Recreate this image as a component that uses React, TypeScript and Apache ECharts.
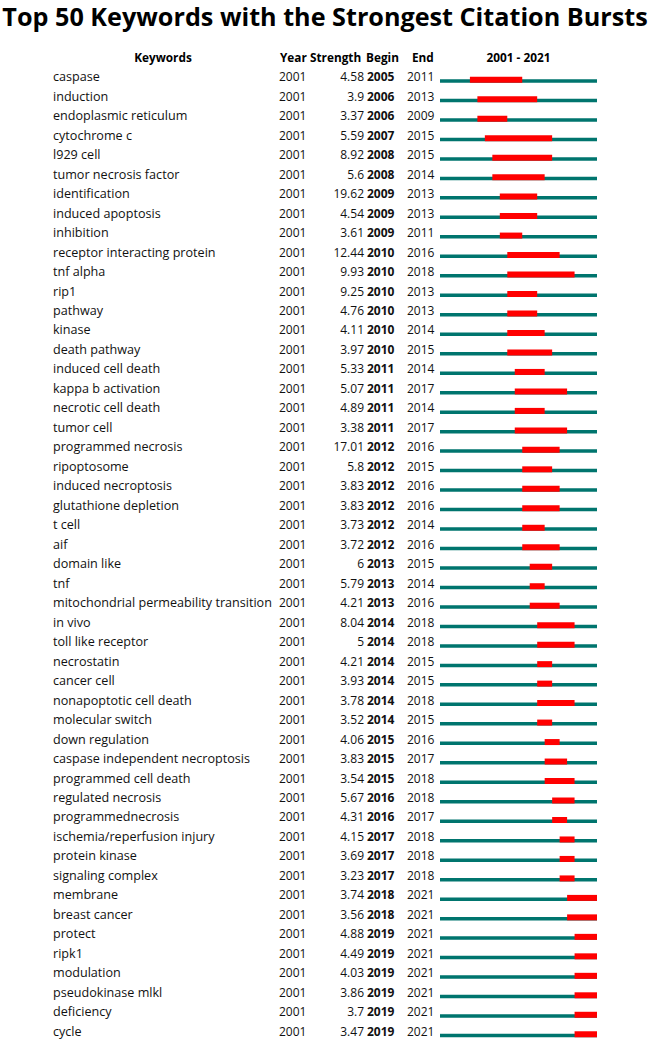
import React, { useEffect, useRef } from "react";
import * as echarts from "echarts";

const TITLE = "Top 50 Keywords with the Strongest Citation Bursts";
const HEADERS = ["Keywords", "Year", "Strength", "Begin", "End", "2001 - 2021"];
const MIN_YEAR = 2001;
const MAX_YEAR = 2021;

const keywords = [
  "caspase", "induction", "endoplasmic reticulum", "cytochrome c", "l929 cell",
  "tumor necrosis factor", "identification", "induced apoptosis", "inhibition", "receptor interacting protein",
  "tnf alpha", "rip1", "pathway", "kinase", "death pathway",
  "induced cell death", "kappa b activation", "necrotic cell death", "tumor cell", "programmed necrosis",
  "ripoptosome", "induced necroptosis", "glutathione depletion", "t cell", "aif",
  "domain like", "tnf", "mitochondrial permeability transition", "in vivo", "toll like receptor",
  "necrostatin", "cancer cell", "nonapoptotic cell death", "molecular switch", "down regulation",
  "caspase independent necroptosis", "programmed cell death", "regulated necrosis", "programmednecrosis", "ischemia/reperfusion injury",
  "protein kinase", "signaling complex", "membrane", "breast cancer", "protect",
  "ripk1", "modulation", "pseudokinase mlkl", "deficiency", "cycle",
];

const years = new Array(50).fill(2001);

const strengths = [
  4.58, 3.9, 3.37, 5.59, 8.92,
  5.6, 19.62, 4.54, 3.61, 12.44,
  9.93, 9.25, 4.76, 4.11, 3.97,
  5.33, 5.07, 4.89, 3.38, 17.01,
  5.8, 3.83, 3.83, 3.73, 3.72,
  6, 5.79, 4.21, 8.04, 5,
  4.21, 3.93, 3.78, 3.52, 4.06,
  3.83, 3.54, 5.67, 4.31, 4.15,
  3.69, 3.23, 3.74, 3.56, 4.88,
  4.49, 4.03, 3.86, 3.7, 3.47,
];

const begins = [
  2005, 2006, 2006, 2007, 2008,
  2008, 2009, 2009, 2009, 2010,
  2010, 2010, 2010, 2010, 2010,
  2011, 2011, 2011, 2011, 2012,
  2012, 2012, 2012, 2012, 2012,
  2013, 2013, 2013, 2014, 2014,
  2014, 2014, 2014, 2014, 2015,
  2015, 2015, 2016, 2016, 2017,
  2017, 2017, 2018, 2018, 2019,
  2019, 2019, 2019, 2019, 2019,
];

const ends = [
  2011, 2013, 2009, 2015, 2015,
  2014, 2013, 2013, 2011, 2016,
  2018, 2013, 2013, 2014, 2015,
  2014, 2017, 2014, 2017, 2016,
  2015, 2016, 2016, 2014, 2016,
  2015, 2014, 2016, 2018, 2018,
  2015, 2015, 2018, 2015, 2016,
  2017, 2018, 2018, 2017, 2018,
  2018, 2018, 2021, 2021, 2021,
  2021, 2021, 2021, 2021, 2021,
];

const TEAL = "#00756e";
const RED = "#ff0000";
const FONT = "Open Sans";

export default function App() {
  const ref = useRef<HTMLDivElement>(null);
  useEffect(() => {
    document.body.style.margin = "0";
    const chart = echarts.init(ref.current!, undefined, { renderer: "svg" });
    const gridLeft = 440;
    const gridRight = 597;
    const idx = keywords.map((_, i) => String(i));
    const mkAxis = (fmt: (i: number) => string, margin: number, align: string, bold = false, size = 12) => ({
      type: "category",
      data: idx,
      inverse: true,
      position: "left",
      axisLine: { show: false },
      axisTick: { show: false },
      splitLine: { show: false },
      axisLabel: {
        fontFamily: FONT,
        fontSize: size,
        color: "#111",
        interval: 0,
        fontWeight: bold ? "bold" : "normal",
        margin,
        align,
        formatter: (_v: string, i: number) => fmt(i),
      },
    });
    const data = keywords.map((_, i) => [i, begins[i], ends[i]]);
    const hdr = (text: string, x: number, align: string) => ({
      type: "text", x, y: 56.5,
      style: { text, font: `bold 11.8px "${FONT}"`, fill: "#000", align, verticalAlign: "middle" },
    });
    chart.setOption({
      animation: false,
      backgroundColor: "#fff",
      grid: { left: gridLeft, width: gridRight - gridLeft, top: 67, height: 974 },
      xAxis: { type: "value", min: MIN_YEAR, max: MAX_YEAR + 1, show: false },
      yAxis: [
        mkAxis((i) => keywords[i], gridLeft - 53, "left", false, 12.6),
        mkAxis((i) => String(years[i]), gridLeft - 279, "left"),
        mkAxis((i) => String(strengths[i]), gridLeft - 364, "right"),
        mkAxis((i) => String(begins[i]), gridLeft - 367, "left", true),
        mkAxis((i) => String(ends[i]), gridLeft - 407, "left"),
      ],
      graphic: [
        {
          type: "text", x: 325, y: 16,
          style: { text: TITLE, font: `bold 25.2px "${FONT}"`, fill: "#000", align: "center", verticalAlign: "middle" },
        },
        hdr(HEADERS[0], 163, "center"),
        hdr(HEADERS[1], 280, "left"),
        hdr(HEADERS[2], 310, "left"),
        hdr(HEADERS[3], 366, "left"),
        hdr(HEADERS[4], 412, "left"),
        hdr(HEADERS[5], 518.5, "center"),
      ],
      series: [
        {
          type: "custom",
          xAxisIndex: 0,
          yAxisIndex: 0,
          encode: { x: [1, 2], y: 0 },
          data,
          renderItem: (_p: any, api: any) => {
            const row = api.value(0);
            const b = api.value(1);
            const e = api.value(2);
            const s = api.coord([MIN_YEAR, row]);
            const t = api.coord([MAX_YEAR + 1, row]);
            const bs = api.coord([b, row]);
            const be = api.coord([e + 1, row]);
            const cy = s[1];
            return {
              type: "group",
              children: [
                { type: "rect", shape: { x: s[0], y: cy + 2.5, width: t[0] - s[0], height: 3.5 }, style: { fill: TEAL } },
                { type: "rect", shape: { x: bs[0], y: cy, width: be[0] - bs[0], height: 6 }, style: { fill: RED } },
              ],
            };
          },
        },
      ],
    });
    return () => chart.dispose();
  }, []);
  return <div ref={ref} style={{ position: "absolute", left: 0, top: 0, width: 650, height: 1041 }} />;
}
